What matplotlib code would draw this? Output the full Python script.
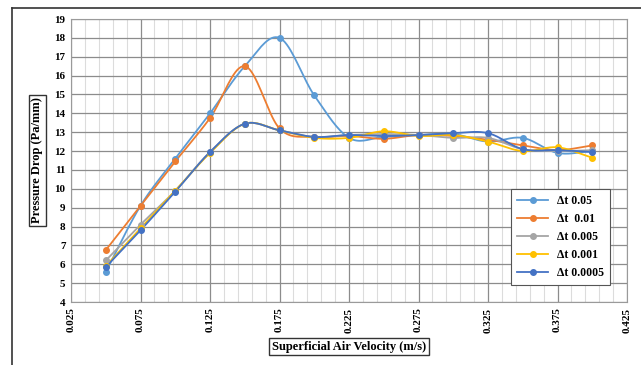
import numpy as np
import matplotlib.pyplot as plt
from matplotlib.lines import Line2D

velocity = [0.05, 0.075, 0.1, 0.125, 0.15, 0.175, 0.2, 0.225, 0.25, 0.275,
            0.3, 0.325, 0.35, 0.375, 0.4]

dt_005 = [5.6, 9.1, 11.6, 14.0, 16.5, 18.0, 14.95, 12.7, 12.75, 12.85,
          12.9, 12.5, 12.7, 11.9, 12.0]
dt_001 = [6.75, 9.1, 11.45, 13.75, 16.5, 13.2, 12.75, 12.8, 12.65, 12.85,
          12.8, 12.6, 12.3, 12.05, 12.3]
dt_0005 = [6.2, 8.1, 9.9, 11.95, 13.45, 13.1, 12.75, 12.85, 12.9, 12.85,
           12.7, 12.7, 12.1, 12.0, 12.05]
dt_0001 = [5.9, 7.9, 9.9, 11.9, 13.45, 13.1, 12.7, 12.7, 13.05, 12.8,
           12.85, 12.5, 12.0, 12.2, 11.65]
dt_00005 = [5.85, 7.8, 9.85, 11.95, 13.45, 13.1, 12.75, 12.85, 12.8, 12.85,
            12.95, 12.95, 12.1, 12.05, 11.95]

labels = ['\u0394t 0.05', '\u0394t  0.01', '\u0394t 0.005', '\u0394t 0.001', '\u0394t 0.0005']
series = [dt_005, dt_001, dt_0005, dt_0001, dt_00005]
colors = ['#5B9BD5', '#ED7D31', '#A5A5A5', '#FFC000', '#4472C4']

xticks = [0.025, 0.075, 0.125, 0.175, 0.225, 0.275, 0.325, 0.375, 0.425]
yticks = list(range(4, 20))


def smooth(x, y, n=20):
    # catmull-rom style curve, like excel "smoothed line"
    x = np.asarray(x, float)
    y = np.asarray(y, float)
    px = np.concatenate([[2 * x[0] - x[1]], x, [2 * x[-1] - x[-2]]])
    py = np.concatenate([[2 * y[0] - y[1]], y, [2 * y[-1] - y[-2]]])
    xs, ys = [], []
    t = np.linspace(0, 1, n)
    for i in range(1, len(px) - 2):
        for p, out in ((px, xs), (py, ys)):
            p0, p1, p2, p3 = p[i - 1], p[i], p[i + 1], p[i + 2]
            out.extend(0.5 * (2 * p1 + (-p0 + p2) * t
                              + (2 * p0 - 5 * p1 + 4 * p2 - p3) * t ** 2
                              + (-p0 + 3 * p1 - 3 * p2 + p3) * t ** 3))
    return xs, ys


plt.rcParams['font.family'] = ['Liberation Serif', 'DejaVu Serif']

fig = plt.figure(figsize=(6.41, 3.65), dpi=100)
ax = fig.add_axes([0.1108, 0.1726, 0.8674, 0.7753])

# outer frame of the chart area
fig.add_artist(Line2D([12 / 641, 1], [1 - 8 / 365, 1 - 8 / 365], color='#333333', lw=1.2))
fig.add_artist(Line2D([12 / 641, 12 / 641], [0, 1 - 8 / 365], color='#333333', lw=1.2))

for vals, lab, c in zip(series, labels, colors):
    sx, sy = smooth(velocity, vals)
    ax.plot(sx, sy, color=c, lw=1.3, zorder=3)
    ax.plot(velocity, vals, 'o', color=c, ms=4, zorder=4)

ax.set_xlim(0.025, 0.425)
ax.set_ylim(4, 19)
ax.set_xticks(xticks)
ax.set_xticks(np.arange(0.025, 0.4251, 0.01), minor=True)
ax.set_yticks(yticks)
ax.set_xticklabels(['%.3f' % v for v in xticks], rotation=90, fontweight='bold', fontsize=8)
ax.set_yticklabels([str(v) for v in yticks], fontweight='bold', fontsize=8)
ax.tick_params(which='both', length=0, pad=4)
ax.grid(which='major', color='#8c8c8c', lw=0.9)
ax.grid(which='minor', axis='x', color='#dcdcdc', lw=0.8)
ax.set_axisbelow(True)
for s in ax.spines.values():
    s.set_color('#9a9a9a')

ax.set_xlabel('Superficial Air Velocity (m/s)', fontweight='bold', fontsize=9,
              labelpad=6, bbox=dict(boxstyle='square,pad=0.2', fc='white', ec='#333333', lw=1))
ax.set_ylabel('Pressure Drop (Pa/mm)', fontweight='bold', fontsize=9,
              labelpad=8, bbox=dict(boxstyle='square,pad=0.2', fc='white', ec='#333333', lw=1))

handles = [Line2D([], [], color=c, marker='o', ms=4, lw=1.3) for c in colors]
leg = ax.legend(handles, labels, loc='upper right', bbox_to_anchor=(0.97, 0.398),
                fancybox=False, framealpha=1, edgecolor='#555555',
                prop={'weight': 'bold', 'size': 8.5}, handlelength=2.6,
                labelspacing=0.5, borderpad=0.5, borderaxespad=0)
leg.get_frame().set_linewidth(0.8)

fig.savefig('out.png', dpi=100)
